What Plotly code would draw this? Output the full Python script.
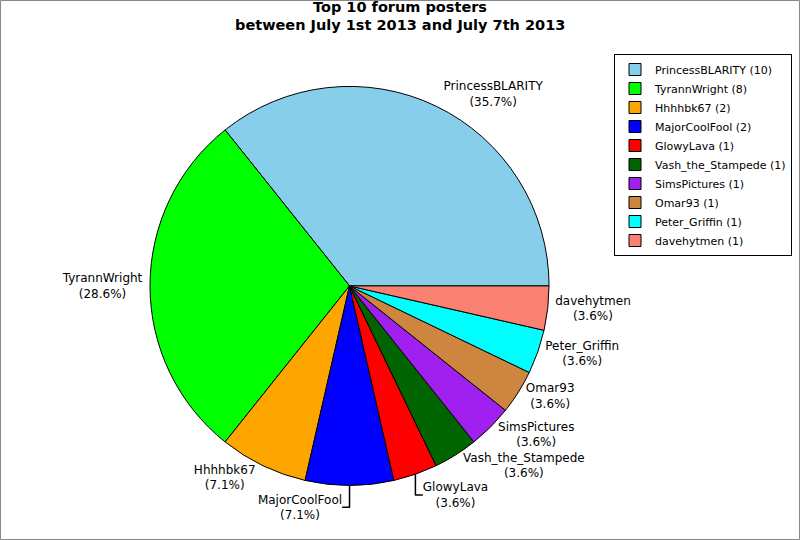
import plotly.graph_objects as go

# Data
posters = ["PrincessBLARITY", "TyrannWright", "Hhhhbk67", "MajorCoolFool", "GlowyLava",
           "Vash_the_Stampede", "SimsPictures", "Omar93", "Peter_Griffin", "davehytmen"]
posts = [10, 8, 2, 2, 1, 1, 1, 1, 1, 1]
colors = ["#87CEEB", "#00FF00", "#FFA500", "#0000FF", "#FF0000",
          "#006400", "#A020F0", "#CD853F", "#00FFFF", "#FA8072"]
title_lines = ["Top 10 forum posters", "between July 1st 2013 and July 7th 2013"]

legend_names = [f"{n} ({c})" for n, c in zip(posters, posts)]

# plotly ends the first slice at `rotation` when counterclockwise,
# so shift it so the first slice starts at 3 o'clock
start_rot = 90 - 360 * posts[0] / sum(posts)

W, H = 800, 540

fig = go.Figure(go.Pie(
    labels=legend_names,
    values=posts,
    customdata=posters,
    sort=False,
    direction="counterclockwise",
    rotation=start_rot,
    marker=dict(colors=colors, line=dict(color="black", width=1)),
    texttemplate="%{customdata}<br>(%{percent:.1%})",
    textposition="outside",
    textfont=dict(family="DejaVu Sans", size=12, color="black"),
    hoverinfo="label+percent",
    domain=dict(x=[0.1875, 0.6863], y=[0.101, 0.840]),
))

# two-line bold title
title_ann = [dict(text=f"<b>{t}</b>", xref="paper", yref="paper", x=0.5, y=1,
                  xanchor="center", yanchor="top", yshift=3 - 18 * i,
                  showarrow=False, font=dict(size=14.5))
             for i, t in enumerate(title_lines)]

fig.update_layout(
    width=W, height=H, autosize=False,
    margin=dict(l=0, r=0, t=0, b=0, pad=0, autoexpand=False),
    paper_bgcolor="white",
    font=dict(family="DejaVu Sans", size=12, color="black"),
    annotations=title_ann,
    legend=dict(x=0.99, xanchor="right", y=0.9, yanchor="top",
                bordercolor="black", borderwidth=1,
                font=dict(size=11), tracegroupgap=0, itemwidth=30),
    shapes=[dict(type="rect", xref="paper", yref="paper",
                 x0=0.5 / W, y0=0.5 / H, x1=1 - 0.5 / W, y1=1 - 0.5 / H,
                 line=dict(color="#888888", width=1))],
)

fig.write_html("out.html", config={"displayModeBar": False},
               post_script="document.body.style.margin='0';")
